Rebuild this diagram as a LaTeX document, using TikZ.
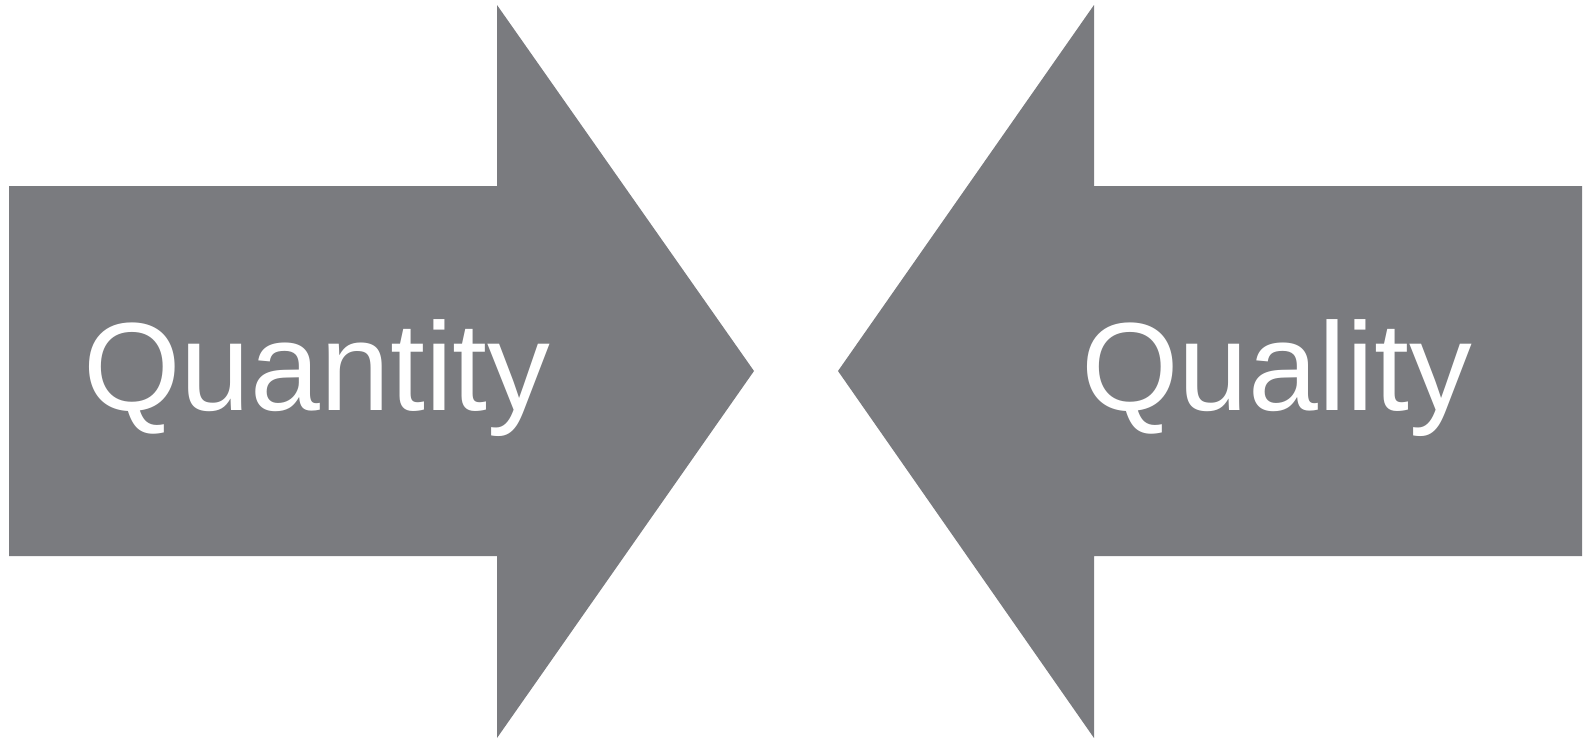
\documentclass[tikz,border=0pt]{standalone}
\usepackage{fontspec}
\setmainfont{Liberation Sans}
\definecolor{arrowgray}{HTML}{7A7B7F}
\begin{document}
\begin{tikzpicture}[x=1pt,y=-1pt,
  bigarrow/.style={fill=arrowgray,draw=none},
  label/.style={text=white,inner sep=0pt,anchor=base west,font=\fontsize{125.5}{125.5}\selectfont}]
\useasboundingbox (0,0) rectangle (1585,742);
% arrow pointing right
\fill[bigarrow] (9,186) -- (497,186) -- (497,5) -- (754,371) -- (497,738) -- (497,556) -- (9,556) -- cycle;
% arrow pointing left
\fill[bigarrow] (1582,186) -- (1094,186) -- (1094,5) -- (838,371) -- (1094,738) -- (1094,556) -- (1582,556) -- cycle;
\node[label] (quantity) at (83,410) {Quantity};
\node[label] (quality) at (1081,410) {Quality};
\end{tikzpicture}
\end{document}
